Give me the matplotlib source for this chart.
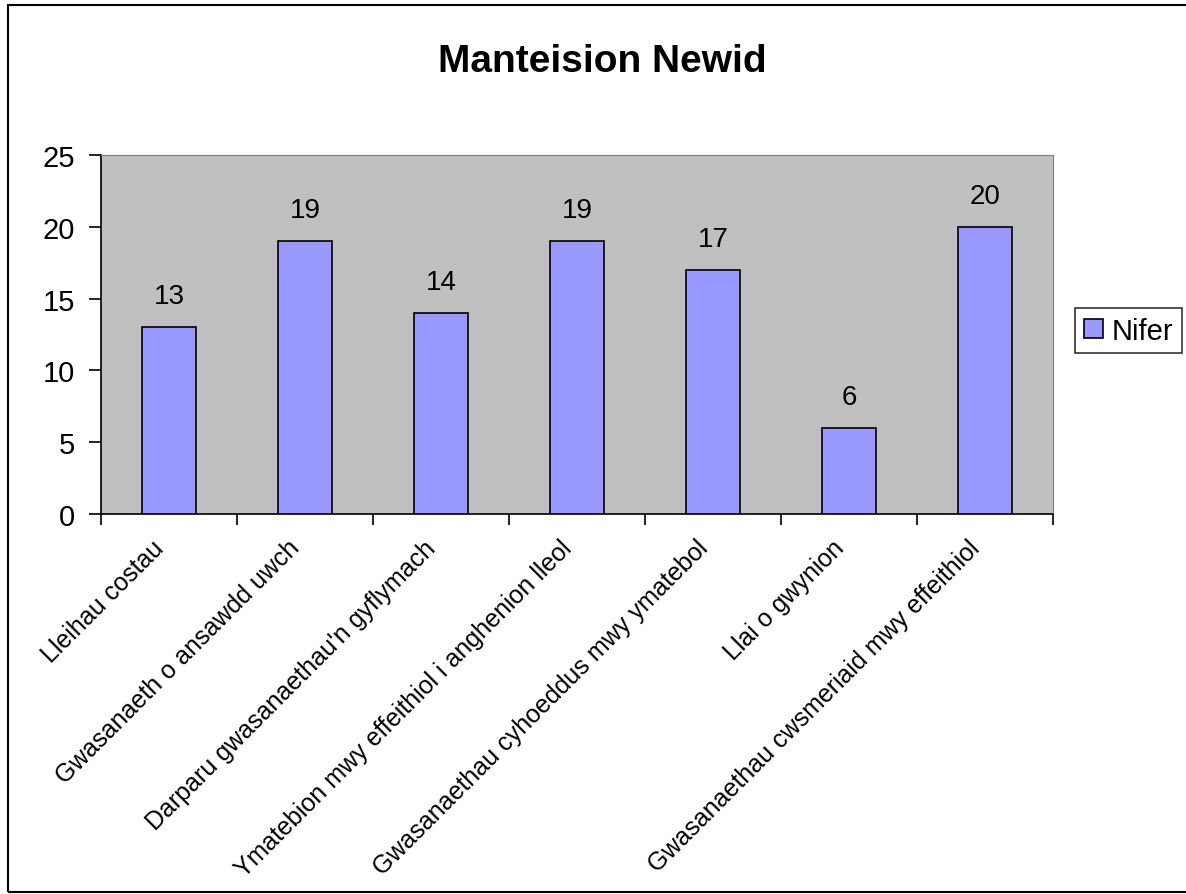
import matplotlib.pyplot as plt
import numpy as np
from matplotlib.patches import Rectangle
from matplotlib.transforms import ScaledTranslation

plt.rcParams['font.family'] = ['Liberation Sans', 'DejaVu Sans']

# data
categories = ['Lleihau costau', 'Gwasanaeth o ansawdd uwch',
              "Darparu gwasanaethau'n gyflymach",
              'Ymatebion mwy effeithiol i anghenion lleol',
              'Gwasanaethau cyhoeddus mwy ymatebol', 'Llai o gwynion',
              'Gwasanaethau cwsmeriaid mwy effeithiol']
values = [13, 19, 14, 19, 17, 6, 20]
series_name = 'Nifer'
title = 'Manteision Newid'

fig = plt.figure(figsize=(11.86, 8.95), dpi=100)
ax = fig.add_axes([0.0852, 0.4246, 0.8027, 0.4011])

# outer chart border
fig.patches.append(Rectangle((8 / 1186, 2 / 895), 1.1, 887 / 895, transform=fig.transFigure,
                             fill=False, edgecolor='black', linewidth=1.5))

x = np.arange(len(categories))
bars = ax.bar(x, values, width=0.4, color='#9999FF', edgecolor='black', linewidth=1.2,
              label=series_name, zorder=3)
ax.bar_label(bars, padding=13, fontsize=20)

ax.set_facecolor('#C0C0C0')
ax.set_xlim(-0.5, len(categories) - 0.5)
ax.set_ylim(0, 25)
ax.set_yticks(range(0, 26, 5))
ax.tick_params(axis='y', labelsize=21, length=9, width=1.2, pad=10, direction='out')

ax.set_xticks(x)
ax.set_xticklabels(categories, rotation=45, ha='right', va='baseline',
                   rotation_mode='anchor', fontsize=18)
ax.tick_params(axis='x', length=0, pad=25)
# nudge the rotated labels slightly left
shift = ScaledTranslation(-4 / 100, 0, fig.dpi_scale_trans)
for lbl in ax.get_xticklabels():
    lbl.set_transform(lbl.get_transform() + shift)
ax.set_xticks(np.arange(-0.5, len(categories)), minor=True)
ax.tick_params(axis='x', which='minor', length=8, width=1.2)

for s in ['top', 'right']:
    ax.spines[s].set_color('#808080')
for s in ['left', 'bottom']:
    ax.spines[s].set_color('black')
    ax.spines[s].set_linewidth(1.2)

fig.text(0.508, 0.931, title, ha='center', va='center', fontsize=28, fontweight='bold')

leg = fig.legend(loc='center left', bbox_to_anchor=(0.9064, 0.6296), fontsize=21,
                 frameon=True, fancybox=False, edgecolor='black', borderpad=0.3,
                 handlelength=0.65, handleheight=0.65, handletextpad=0.3, borderaxespad=0)
leg.get_frame().set_linewidth(1.2)

plt.savefig('out.png', dpi=100)
